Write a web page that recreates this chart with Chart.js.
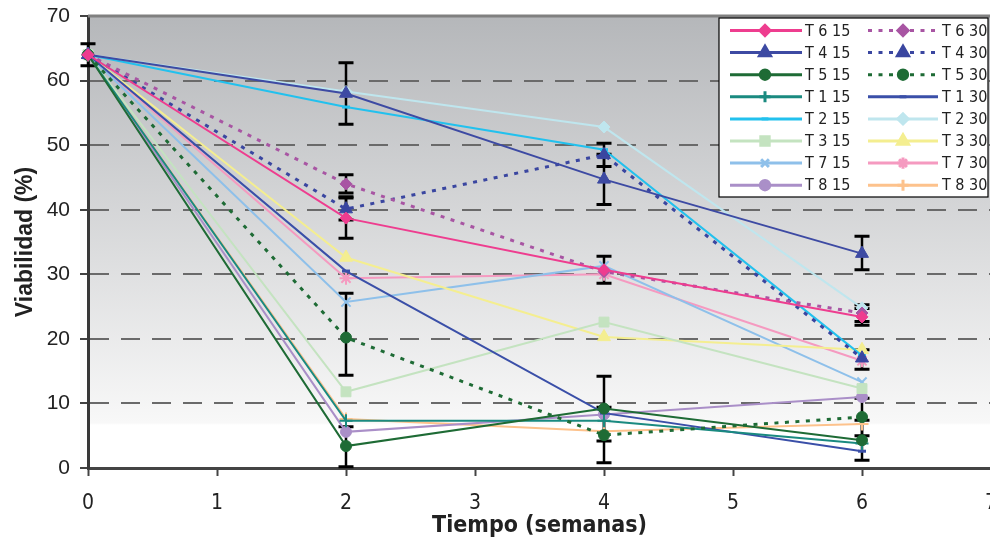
<!DOCTYPE html>
<html><head><meta charset="utf-8">
<script src="https://cdn.jsdelivr.net/npm/chart.js@4.4.1/dist/chart.umd.min.js"></script>
<style>html,body{margin:0;padding:0;background:#fff;overflow:hidden}#wrap{width:990px;height:544px;overflow:hidden;position:relative}canvas{display:block}</style>
</head><body><div id="wrap"><canvas id="c" width="1000" height="544" style="width:1000px;height:544px"></canvas></div>
<script>
// ---- data ----
const weeks = [0, 2, 4, 6];
const xTicks = [0, 1, 2, 3, 4, 5, 6, 7];
const yTicks = [0, 10, 20, 30, 40, 50, 60, 70];
const seriesNames = ['T 6 15','T 6 30','T 4 15','T 4 30','T 5 15','T 5 30','T 1 15','T 1 30',
                     'T 2 15','T 2 30','T 3 15','T 3 30','T 7 15','T 7 30','T 8 15','T 8 30'];
const T6_15 = [64, 38.7, 30.7, 23.4];
const T6_30 = [64, 44.0, 30.4, 24.0];
const T4_15 = [64, 58.0, 44.7, 33.2];
const T4_30 = [64, 40.1, 48.5, 17.0];
const T5_15 = [64, 3.4, 9.2, 4.3];
const T5_30 = [64, 20.2, 5.1, 7.9];
const T1_15 = [64, 7.3, 7.3, 3.8];
const T1_30 = [64, 30.5, 8.5, 2.6];
const T2_15 = [64, 55.9, 49.3, 17.4];
const T2_30 = [64, 58.3, 52.8, 24.8];
const T3_15 = [64, 11.8, 22.6, 12.3];
const T3_30 = [64, 32.6, 20.3, 18.3];
const T7_15 = [64, 25.7, 31.3, 13.3];
const T7_30 = [64, 29.4, 30.0, 16.6];
const T8_15 = [64, 5.6, 8.3, 11.0];
const T8_30 = [64, 7.6, 5.7, 6.8];
// error bars (week, mean, half-width)
const errWeeks = [0, 2, 2, 2, 2, 2, 2, 4, 4, 4, 4, 4, 6, 6, 6, 6, 6, 6];
const errMeans = [64, 58.0, 44.0, 40.2, 38.7, 20.7, 3.3, 48.5, 44.7, 30.7, 9.2, 5.1, 33.3, 24.0, 23.4, 16.8, 7.9, 4.3];
const errHalf  = [1.7, 4.75, 1.4, 1.8, 3.1, 6.35, 3.1, 1.8, 3.9, 2.1, 5.0, 4.3, 2.6, 1.3, 1.3, 1.5, 2.9, 3.1];

// ---- styles ----
const seriesValues = [T6_15,T6_30,T4_15,T4_30,T5_15,T5_30,T1_15,T1_30,T2_15,T2_30,T3_15,T3_30,T7_15,T7_30,T8_15,T8_30];
const seriesColors = ['#EE3D8F','#A855A3','#3D4AA3','#3A46A0','#1E6B35','#1E6B35','#1A8A80','#3A4FA8',
                      '#22C1EE','#BFE6EE','#C4E3C0','#F4EE90','#8EC0EA','#F59AC0','#AA8FC8','#FDC28C'];
const seriesMarkers = ['rectRot','rectRot','triangle','triangle','circle','circle','cross','line',
                       'line','rectRot','rect','triangle','crossRot','star','circle','cross'];
const markerRadius = [6,6,7.5,7.5,5.5,5.5,6.5,4,4,6,7,7.5,6.5,6.5,5.5,6.5];
const dottedSeries = [false,true,false,true,false,true,false,false,false,false,false,false,false,false,false,false];

const strokeMarkers = ['cross','crossRot','star','line'];
const datasets = seriesNames.map((name, i) => ({
  label: name,
  data: weeks.map((w, j) => ({x: w, y: seriesValues[i][j]})),
  borderColor: seriesColors[i],
  backgroundColor: seriesColors[i],
  pointBackgroundColor: seriesColors[i],
  pointBorderColor: seriesColors[i],
  pointStyle: seriesMarkers[i],
  pointRadius: markerRadius[i],
  pointHoverRadius: markerRadius[i],
  pointBorderWidth: seriesMarkers[i] === 'line' ? 3 : (strokeMarkers.includes(seriesMarkers[i]) ? 2 : 1),
  borderWidth: dottedSeries[i] ? 3 : 2,
  borderDash: dottedSeries[i] ? [4, 6.5] : [],
  borderCapStyle: 'butt',
  tension: 0,
  fill: false,
  clip: false
}));

const FONT = '"Liberation Sans", Arial, sans-serif';
const NARROW = '"Liberation Sans Narrow", "DejaVu Sans Condensed", "Liberation Sans", sans-serif';

const bgPlugin = {
  id: 'bg',
  beforeDraw(chart) {
    const {ctx, chartArea: a} = chart;
    const g = ctx.createLinearGradient(0, a.top, 0, a.bottom);
    g.addColorStop(0, '#b5b7ba');
    g.addColorStop(0.9, '#f8f8f8');
    g.addColorStop(0.905, '#ffffff');
    g.addColorStop(1, '#ffffff');
    ctx.save();
    ctx.fillStyle = g;
    ctx.fillRect(a.left, a.top, a.right - a.left, a.bottom - a.top);
    ctx.restore();
  },
  beforeDatasetsDraw(chart) {
    const {ctx, chartArea: a, scales} = chart;
    ctx.save();
    // top border
    ctx.strokeStyle = '#808080';
    ctx.lineWidth = 3;
    ctx.beginPath();
    ctx.moveTo(a.left, a.top);
    ctx.lineTo(a.right, a.top);
    ctx.stroke();
    // error bars
    ctx.strokeStyle = '#000';
    for (let i = 0; i < errWeeks.length; i++) {
      const x = scales.x.getPixelForValue(errWeeks[i]);
      const y1 = scales.y.getPixelForValue(errMeans[i] + errHalf[i]);
      const y2 = scales.y.getPixelForValue(errMeans[i] - errHalf[i]);
      ctx.lineWidth = 2.5;
      ctx.beginPath(); ctx.moveTo(x, y1); ctx.lineTo(x, y2); ctx.stroke();
      ctx.lineWidth = 3;
      ctx.beginPath();
      ctx.moveTo(x - 7.5, y1); ctx.lineTo(x + 7.5, y1);
      ctx.moveTo(x - 7.5, y2); ctx.lineTo(x + 7.5, y2);
      ctx.stroke();
    }
    ctx.restore();
  }
};

function drawMarker(ctx, style, r, bw, x, y) {
  if (Chart.helpers && Chart.helpers.drawPoint) {
    Chart.helpers.drawPoint(ctx, {pointStyle: style, rotation: 0, radius: r, borderWidth: bw}, x, y);
  } else {
    ctx.beginPath(); ctx.arc(x, y, r, 0, Math.PI * 2); ctx.fill();
  }
}

const legendPlugin = {
  id: 'customLegend',
  afterDraw(chart) {
    const {ctx} = chart;
    ctx.save();
    ctx.fillStyle = '#ffffff';
    ctx.fillRect(719, 18, 269, 179);
    ctx.strokeStyle = '#000';
    ctx.lineWidth = 1.2;
    ctx.strokeRect(719, 18, 269, 179);
    const cols = [{l: 730, r: 802, m: 765, t: 805}, {l: 868, r: 938, m: 903, t: 942}];
    chart.data.datasets.forEach((d, i) => {
      const row = Math.floor(i / 2), c = cols[i % 2];
      const y = 30.5 + row * 22.1;
      ctx.strokeStyle = d.borderColor;
      ctx.fillStyle = d.borderColor;
      ctx.lineWidth = 3;
      ctx.setLineDash(dottedSeries[i] ? [4, 6.5] : []);
      ctx.lineCap = 'butt';
      ctx.beginPath(); ctx.moveTo(c.l, y); ctx.lineTo(c.r, y); ctx.stroke();
      ctx.setLineDash([]);
      drawMarker(ctx, d.pointStyle, d.pointRadius * 0.85, d.pointBorderWidth, c.m, y);
      ctx.fillStyle = '#222';
      ctx.font = '16px ' + NARROW;
      ctx.textBaseline = 'middle';
      ctx.textAlign = 'left';
      ctx.fillText(d.label, c.t, y + 1);
    });
    ctx.restore();
  }
};

new Chart(document.getElementById('c'), {
  type: 'line',
  data: {datasets},
  plugins: [bgPlugin, legendPlugin],
  options: {
    responsive: false,
    devicePixelRatio: 1,
    animation: false,
    layout: {padding: {left: 0, top: 16, right: 9, bottom: 0}},
    plugins: {legend: {display: false}, tooltip: {enabled: false}},
    scales: {
      x: {
        type: 'linear', min: 0, max: 7,
        afterBuildTicks: s => { s.ticks = xTicks.map(v => ({value: v})); },
        afterFit: s => { s.height = 76; s.paddingLeft = 0; s.paddingRight = 0; },
        ticks: {font: {family: NARROW, size: 21}, color: '#222', padding: 15},
        grid: {drawOnChartArea: false, drawTicks: true, tickLength: 8, tickColor: '#444', tickWidth: 2},
        border: {display: true, color: '#444', width: 3},
        title: {display: true, text: 'Tiempo (semanas)', color: '#222',
                font: {family: NARROW, size: 23, weight: 'bold'}, padding: {top: 0, bottom: 4}}
      },
      y: {
        type: 'linear', min: 0, max: 70,
        afterBuildTicks: s => { s.ticks = yTicks.map(v => ({value: v})); },
        afterFit: s => { s.width = 88; s.paddingTop = 0; s.paddingBottom = 0; },
        ticks: {font: {family: FONT, size: 21}, color: '#222', padding: 10},
        grid: {
          color: c => (c.tick && (c.tick.value === 0 || c.tick.value === 70)) ? 'rgba(0,0,0,0)' : '#6a6a6a',
          lineWidth: 2, drawTicks: true, tickLength: 8, tickColor: '#444', tickWidth: 2, tickBorderDash: []
        },
        border: {display: true, color: '#3a3a3a', width: 3, dash: [19, 12]},
        title: {display: true, text: 'Viabilidad (%)', color: '#222',
                font: {family: FONT, size: 23, weight: 'bold'}, padding: {top: 12, bottom: 0}}
      }
    }
  }
});
</script></body></html>
